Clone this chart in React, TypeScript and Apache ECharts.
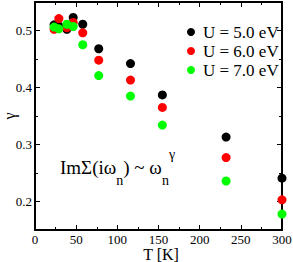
import React, { useEffect, useRef } from "react";
import * as echarts from "echarts";

const temperatures = [23.2, 29.0, 38.7, 46.4, 58.0, 77.4, 116.0, 154.7, 232.1, 300.0];
const gammaU5 = [0.510, 0.508, 0.502, 0.523, 0.511, 0.468, 0.442, 0.387, 0.313, 0.241];
const gammaU6 = [0.502, 0.521, 0.505, 0.514, 0.496, 0.448, 0.413, 0.365, 0.277, 0.203];
const gammaU7 = [0.506, 0.503, 0.511, 0.507, 0.475, 0.421, 0.385, 0.334, 0.236, 0.178];
const seriesNames = ["U = 5.0 eV", "U = 6.0 eV", "U = 7.0 eV"];
const seriesColors = ["#000000", "#ff0000", "#00ff00"];
const xTicks = { min: 0, max: 300, interval: 50 };
const yRange = { min: 0.15, max: 0.55 };

const FONT = "Liberation Serif";

export default function App() {
  const ref = useRef<HTMLDivElement>(null);
  useEffect(() => {
    if (!ref.current) return;
    const chart = echarts.init(ref.current, null, { renderer: "svg" });
    const values = [gammaU5, gammaU6, gammaU7];
    const lineStyle = { color: "#000", width: 2 };
    const xBase = (pos: "bottom" | "top", labels: boolean) => ({
      type: "value",
      position: pos,
      min: xTicks.min,
      max: xTicks.max,
      interval: xTicks.interval,
      axisLine: { show: true, onZero: false, lineStyle },
      axisTick: { show: true, inside: true, length: 5, lineStyle: { color: "#000", width: 1 } },
      minorTick: { show: true, splitNumber: 2, length: 3, lineStyle: { color: "#000", width: 1 } },
      splitLine: { show: false },
      axisLabel: {
        show: labels,
        fontFamily: FONT,
        fontSize: 13,
        lineHeight: 12,
        color: "#000",
        margin: 3,
      },
      name: labels ? "T [K]" : "",
      nameLocation: "middle",
      nameGap: 17,
      nameMoveOverlap: false,
      nameTextStyle: { fontFamily: FONT, fontSize: 16, lineHeight: 14, color: "#000", padding: [0, 0, 0, 5] },
    });
    const yMajor = (pos: "left" | "right", labels: boolean) => ({
      type: "value",
      position: pos,
      min: yRange.min,
      max: yRange.max,
      splitNumber: 4,
      axisLine: { show: true, onZero: false, lineStyle },
      axisTick: { show: true, inside: true, length: 5, lineStyle: { color: "#000", width: 1 } },
      splitLine: { show: false },
      axisLabel: {
        show: labels,
        showMinLabel: false,
        showMaxLabel: false,
        fontFamily: FONT,
        fontSize: 13,
        color: "#000",
        margin: 3,
        formatter: (v: number) => String(Math.round(v * 10) / 10),
      },
      name: labels ? "γ" : "",
      nameLocation: "middle",
      nameGap: 18,
      nameMoveOverlap: false,
      nameTextStyle: { fontFamily: FONT, fontSize: 16, lineHeight: 16, color: "#000" },
    });
    const yMinor = (pos: "left" | "right") => ({
      type: "value",
      position: pos,
      min: yRange.min,
      max: yRange.max,
      interval: 0.1,
      axisLine: { show: false, onZero: false },
      axisTick: { show: true, inside: true, length: 3, lineStyle: { color: "#000", width: 1 } },
      splitLine: { show: false },
      axisLabel: { show: false },
    });
    chart.setOption({
      animation: false,
      backgroundColor: "#fff",
      grid: { left: 35, right: 11, top: 2, bottom: 32, containLabel: false, outerBoundsMode: "none" },
      xAxis: [xBase("bottom", true), xBase("top", false)],
      yAxis: [yMajor("left", true), yMinor("left"), yMajor("right", false), yMinor("right")],
      legend: {
        orient: "vertical",
        left: 182,
        top: 18,
        itemWidth: 8,
        itemHeight: 8,
        itemGap: 1,
        icon: "circle",
        textStyle: { fontFamily: FONT, fontSize: 17, color: "#000", lineHeight: 18, padding: [0, 0, 0, 3] },
        data: seriesNames,
      },
      graphic: [
        {
          type: "text",
          left: 60,
          top: 147,
          style: {
            text: "{m|ImΣ(iω}{s|n}{m|) ~ ω}{s|n}{p|γ}",
            fill: "#000",
            rich: {
              m: { fontFamily: FONT, fontSize: 19, lineHeight: 40, verticalAlign: "middle", fill: "#000" },
              s: { fontFamily: FONT, fontSize: 14, lineHeight: 14, verticalAlign: "bottom", fill: "#000" },
              p: { fontFamily: FONT, fontSize: 14, lineHeight: 20, verticalAlign: "top", fill: "#000" },
            },
          },
        },
      ],
      series: seriesNames.map((name, i) => ({
        name,
        type: "scatter",
        xAxisIndex: 0,
        yAxisIndex: 0,
        symbol: "circle",
        symbolSize: 9,
        clip: false,
        itemStyle: { color: seriesColors[i], opacity: 1 },
        data: temperatures.map((t, j) => [t, values[i][j]]),
      })),
    });
    return () => chart.dispose();
  }, []);
  return <div ref={ref} style={{ position: "absolute", left: 0, top: 0, width: 293, height: 262 }} />;
}
